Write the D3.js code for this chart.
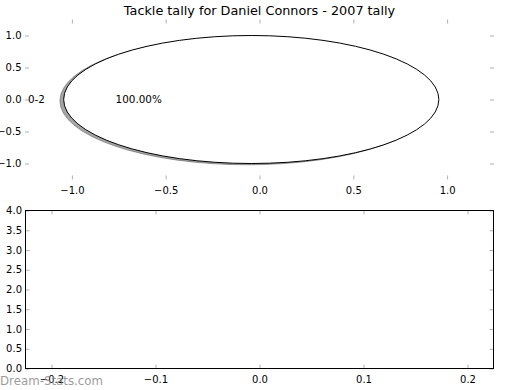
<!DOCTYPE html>
<html><head><meta charset="utf-8">
<script src="https://cdn.jsdelivr.net/npm/d3@7"></script>
<style>body{margin:0;background:#fff}svg{display:block}text{font-family:"DejaVu Sans",sans-serif}</style>
</head><body><svg id="c" width="520" height="390"></svg>
<script>
const title = "Tackle tally for Daniel Connors - 2007 tally";
const sliceLabels = ["0-2"];
const sliceValues = [1];
const pieTicks = [-1.0, -0.5, 0.0, 0.5, 1.0];
const barXTicks = [-0.2, -0.1, 0.0, 0.1, 0.2];
const barYTicks = [0, 0.5, 1, 1.5, 2, 2.5, 3, 3.5, 4];
const watermark = "Dream-Stats.com";

const svg = d3.select("#c");
const fmt = v => d3.format(".1f")(v).replace("-", "\u2212");
const tickCol = "#b0b0b0";
const FS = 10;

function ticksAllSides(g, x, y, xt, yt, showSpines) {
  const [x0, x1] = x.range(), [y0, y1] = y.range();
  const L = 4;
  g.append("g").attr("transform", `translate(0,${y0})`)
    .call(d3.axisBottom(x).tickValues(xt).tickSize(-L).tickPadding(7.5).tickFormat(fmt))
    .call(a => { a.select(".domain").remove(); a.selectAll("line").attr("stroke", tickCol);
      a.selectAll("text").attr("font-size", FS).attr("fill", "#000"); });
  g.append("g").attr("transform", `translate(0,${y1})`)
    .call(d3.axisTop(x).tickValues(xt).tickSize(-L).tickFormat(""))
    .call(a => { a.select(".domain").remove(); a.selectAll("line").attr("stroke", tickCol); });
  g.append("g").attr("transform", `translate(${x0},0)`)
    .call(d3.axisLeft(y).tickValues(yt).tickSize(-L).tickPadding(3.5).tickFormat(fmt))
    .call(a => { a.select(".domain").remove(); a.selectAll("line").attr("stroke", tickCol);
      a.selectAll("text").attr("font-size", FS).attr("fill", "#000"); });
  g.append("g").attr("transform", `translate(${x1},0)`)
    .call(d3.axisRight(y).tickValues(yt).tickSize(-L).tickFormat(""))
    .call(a => { a.select(".domain").remove(); a.selectAll("line").attr("stroke", tickCol); });
  if (showSpines) {
    g.append("rect").attr("x", x0).attr("y", y1).attr("width", x1 - x0).attr("height", y0 - y1)
      .attr("fill", "none").attr("stroke", "#000").attr("stroke-width", 1);
  }
}

// Title
svg.append("text").attr("x", 259.5).attr("y", 14.5).attr("text-anchor", "middle")
  .attr("font-size", 12.8).text(title);

// ---- Top (pie) axes ----
const px = d3.scaleLinear().domain([-1.25, 1.25]).range([25, 494]);
const py = d3.scaleLinear().domain([-1.25, 1.25]).range([179.5, 19.5]);
const gTop = svg.append("g");
ticksAllSides(gTop, px, py, pieTicks, pieTicks, false);

const explode = 0.044;
const sx = px(1) - px(0), sy = py(0) - py(1);
const pie = d3.pie().sort(null)(sliceValues);
const arc = d3.arc().innerRadius(0).outerRadius(1);
pie.forEach((d, i) => {
  const mid = (d.startAngle + d.endAngle) / 2;
  const cx = explode * Math.cos(mid), cy = explode * Math.sin(mid);
  gTop.append("path").attr("d", arc(d))
    .attr("transform", `translate(${px(cx - 0.02)},${py(cy - 0.02)}) scale(${sx},${sy})`)
    .attr("fill", "#4d4d4d").attr("fill-opacity", 0.5)
    .attr("stroke", "#4d4d4d").attr("stroke-opacity", 0.5)
    .attr("stroke-width", 1).attr("vector-effect", "non-scaling-stroke");
  gTop.append("path").attr("d", arc(d))
    .attr("transform", `translate(${px(cx)},${py(cy)}) scale(${sx},${sy})`)
    .attr("fill", "#fff").attr("stroke", "#000").attr("stroke-width", 1)
    .attr("vector-effect", "non-scaling-stroke");
  const lx = cx + 1.1 * Math.cos(mid), ly = cy + 1.1 * Math.sin(mid);
  gTop.append("text").attr("x", px(lx)).attr("y", py(ly)).attr("dy", "0.35em")
    .attr("text-anchor", lx < 0 ? "end" : "start").attr("font-size", 10.4).text(sliceLabels[i]);
  const tx = cx + 0.6 * Math.cos(mid), ty = cy + 0.6 * Math.sin(mid);
  const pct = d.value / d3.sum(sliceValues) * 100;
  gTop.append("text").attr("x", px(tx)).attr("y", py(ty)).attr("dy", "0.35em")
    .attr("text-anchor", "middle").attr("font-size", 10.4).text(pct.toFixed(2) + "%");
});

// ---- Bottom (empty bar) axes ----
const bx = d3.scaleLinear().domain([-0.225, 0.225]).range([25.5, 493.5]);
const by = d3.scaleLinear().domain([0, 4]).range([368.5, 210.5]);
const gBot = svg.append("g");
ticksAllSides(gBot, bx, by, barXTicks, barYTicks, true);

// watermark
svg.append("text").attr("x", 0).attr("y", 384.5).attr("font-size", 11.8)
  .attr("fill", "#888").attr("fill-opacity", 0.85).text(watermark);
</script></body></html>
